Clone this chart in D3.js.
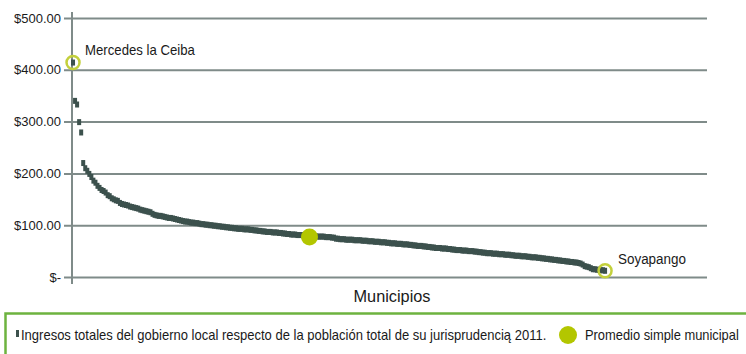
<!DOCTYPE html>
<html><head><meta charset="utf-8">
<script src="https://cdn.jsdelivr.net/npm/d3@7/dist/d3.min.js"></script>
<style>body{margin:0;background:#fff}svg{display:block}</style>
</head><body><svg id="c" width="746" height="354"></svg>
<script>
const values = [414,340,333,299,279,220,210,205,199,193,186,182,176,172,168,166,163,158,156,152,
150,148,147,143,141,140,139,138,136,135,134,133,132,130,129,128,127,126,125,122,
120,119,118,118,117,116,115,114,114,113,112,111,110,109,108,107,107,106,105,105,
104,104,103,102,102,101,101,100,100,99,99,98,98,97,97,96,96,95,95,94,
94,93,93,93,92,92,92,91,91,90,90,89,89,88,88,87,87,87,86,86,
86,85,85,84,84,83,83,82,82,82,81,81,81,80,80,80,80,79,79,79,
78,78,78,78,77,77,77,76,76,74,74,73,73,73,72,72,72,72,71,71,
71,71,70,70,70,69,69,69,68,68,68,67,67,67,66,66,65,65,65,64,
64,64,63,63,63,62,62,61,61,60,60,60,59,59,58,58,57,57,56,56,
56,55,55,55,54,54,53,53,52,52,52,51,51,51,50,50,50,49,49,48,
48,47,47,46,46,46,45,45,45,44,44,44,43,43,43,42,42,41,41,41,
40,40,40,39,39,38,38,38,37,37,36,36,35,35,34,34,33,33,32,32,
31,31,30,30,29,29,28,28,27,26,24,21,20,19,17,15,15,14,14,13,
13,12];
const yTicks = [0,100,200,300,400,500];
const yTickLabels = ["$-","$100.00","$200.00","$300.00","$400.00","$500.00"];
const highlights = [{idx:0,label:"Mercedes la Ceiba"},{idx:values.length-1,label:"Soyapango"}];
const average = {idx:116, value:77};
const xTitle = "Municipios";
const legendSeries = "Ingresos totales del gobierno local respecto de la población total de su jurisprudencią 2011.";
const legendAvg = "Promedio simple municipal";

const svg = d3.select("#c");
const font = "'Liberation Sans',Arial,sans-serif";
const L=72, R=707, T=18, B=277;
const x = d3.scaleLinear().domain([-0.5, 311]).range([L, R]);
const y = d3.scaleLinear().domain([0,500]).range([B, T]);
const grid = "#7f8b89", mark = "#3c514d", lime = "#b3c600", ring = "#c3d03c";

// text squeezed horizontally to a target width (condensed look), start-anchored
function fitText(tx, ty, size, width, str, anchor) {
  const t = svg.append("text").attr("font-family",font).attr("font-size",size).attr("fill","#1a1a1a")
    .attr("text-anchor", anchor||"start").text(str);
  const nat = t.node().getComputedTextLength() || width;
  const s = Math.min(1, width/nat);
  t.attr("transform",`translate(${tx},${ty}) scale(${s},1)`);
  return t;
}

const yAxis = d3.axisLeft(y).tickValues(yTicks).tickSize(-(R-L)).tickSizeOuter(0)
  .tickFormat((d,i)=>yTickLabels[i]).tickPadding(12);
const g = svg.append("g").attr("transform",`translate(${L},0)`).call(yAxis);
g.select(".domain").remove();
g.selectAll(".tick line").attr("stroke",grid).attr("stroke-width",2).attr("x1",-8);
g.selectAll(".tick text").attr("font-family",font).attr("font-size",13).attr("fill","#1a1a1a").attr("x",-11);
svg.append("line").attr("x1",L).attr("x2",L).attr("y1",12).attr("y2",B+7)
  .attr("stroke",grid).attr("stroke-width",2);

svg.append("g").selectAll("rect").data(values).join("rect")
  .attr("x",(d,i)=>x(i)-2).attr("y",d=>y(d)-3).attr("width",4).attr("height",6)
  .attr("fill",mark);

svg.append("circle").attr("cx",x(average.idx)).attr("cy",y(average.value)).attr("r",8.5).attr("fill",lime);

highlights.forEach(h=>{
  svg.append("circle").attr("cx",x(h.idx)).attr("cy",y(values[h.idx])).attr("r",6.5)
    .attr("fill","none").attr("stroke",ring).attr("stroke-width",2.5);
});
fitText(85, 55, 14, 110, highlights[0].label);
fitText(618, 264, 14, 68, highlights[1].label);
fitText(392, 302, 17, 77, xTitle, "middle");

svg.append("path").attr("d","M746,313.5 H5.5 V354").attr("fill","none")
  .attr("stroke","#6db33f").attr("stroke-width",2.5);
svg.append("rect").attr("x",16).attr("y",330).attr("width",3).attr("height",7).attr("fill",mark);
fitText(21, 340, 14, 526, legendSeries);
svg.append("circle").attr("cx",568).attr("cy",335).attr("r",9).attr("fill",lime);
fitText(585, 340, 14, 154, legendAvg);
</script></body></html>
